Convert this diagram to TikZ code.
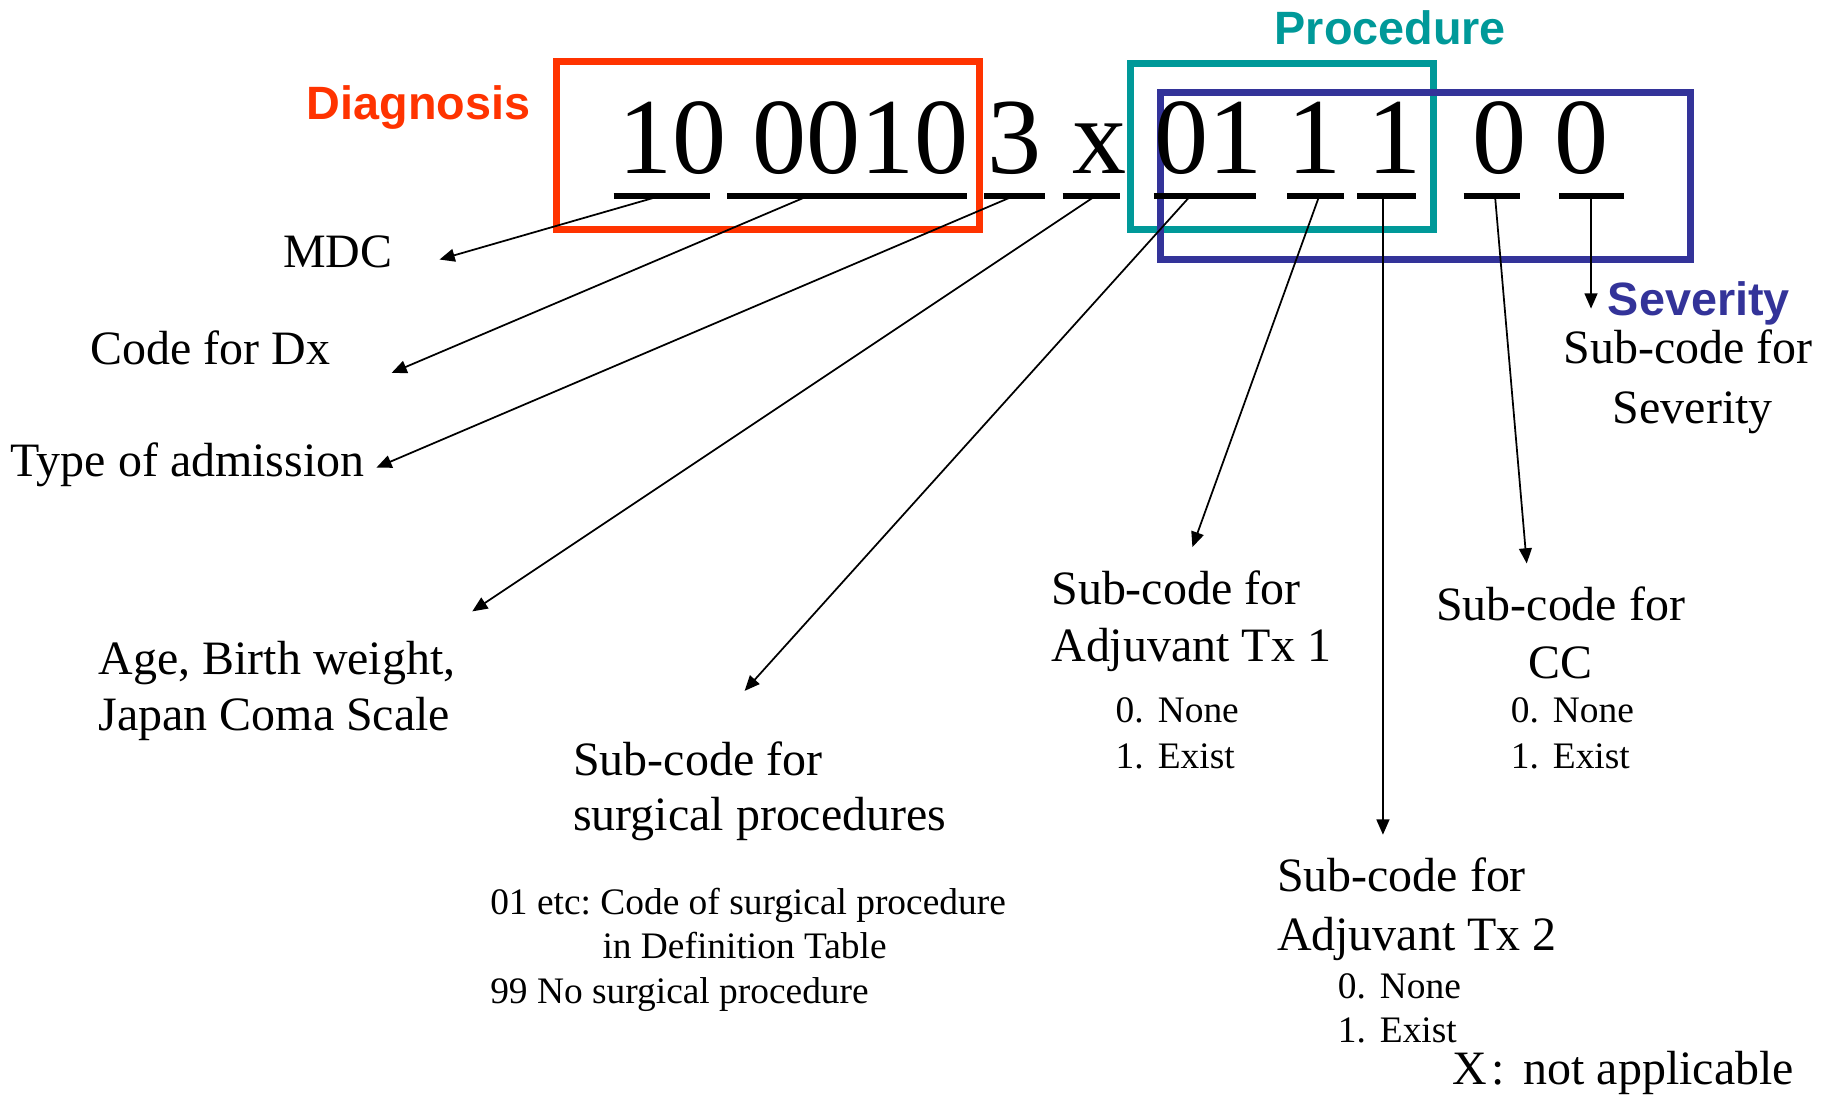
\documentclass[tikz,border=0pt]{standalone}
\usepackage{fontspec}
\setmainfont{Liberation Serif}
\newfontfamily\headsans{Liberation Sans}
\usetikzlibrary{arrows.meta}
\definecolor{dxred}{HTML}{FF3300}
\definecolor{proteal}{HTML}{009999}
\definecolor{sevblue}{HTML}{333399}
\frenchspacing

\begin{document}
\begin{tikzpicture}[x=0.5pt,y=-0.5pt,
  digits/.style={inner sep=0pt, anchor=base west, font=\fontsize{46.25pt}{50pt}\selectfont},
  lbl/.style={inner sep=0pt, anchor=base west, font=\fontsize{20.5pt}{24pt}\selectfont},
  lblc/.style={lbl, anchor=base},
  small/.style={inner sep=0pt, anchor=base west, font=\fontsize{16pt}{19pt}\selectfont},
  head/.style={inner sep=0pt, anchor=base west, font=\headsans\bfseries\fontsize{20pt}{24pt}\selectfont},
  codebox/.style={line width=3pt},
  uline/.style={line width=2.5pt},
  pointer/.style={line width=0.75pt, -{Triangle[length=6.5pt,width=5.5pt]}},
]
\useasboundingbox (0,0) rectangle (1568,938);

% group boxes
\draw[codebox, dxred]   (476,53) rectangle (838,196);
\draw[codebox, proteal] (967,54) rectangle (1226,196);
\draw[codebox, sevblue] (993,79) rectangle (1446,222);

% group headings
\node[head, text=dxred]   (hdx)  at (262,102) {Diagnosis};
\node[head, text=proteal] (hpro) at (1090,38) {Procedure};
\node[head, text=sevblue] (hsev) at (1375,270) {Severity};

% the code digits
\node[digits] (d1) at (529,148) {10};
\node[digits] (d2) at (643,148) {0010};
\node[digits] (d3) at (844,148) {3};
\node[digits] (d4) at (917,148) {x};
\node[digits] (d5) at (987,148) {01};
\node[digits] (d6) at (1101,148) {1};
\node[digits] (d7) at (1169,148) {1};
\node[digits] (d8) at (1259,148) {0};
\node[digits] (d9) at (1329,148) {0};

% underlines under each field
\draw[uline] (525,168) -- (607,168);
\draw[uline] (622,168) -- (827,168);
\draw[uline] (842,168) -- (894,168);
\draw[uline] (909,168) -- (958,168);
\draw[uline] (987,168) -- (1074,168);
\draw[uline] (1101,168) -- (1150,168);
\draw[uline] (1161,168) -- (1211,168);
\draw[uline] (1252,168) -- (1300,168);
\draw[uline] (1334,168) -- (1389,168);

% arrow origins on the underlines
\coordinate (s1) at (560,169);
\coordinate (s2) at (688,169);
\coordinate (s3) at (864,169);
\coordinate (s4) at (935,169);
\coordinate (s5) at (1017,169);
\coordinate (s6) at (1128,169);
\coordinate (s7) at (1183,169);
\coordinate (s8) at (1279,169);
\coordinate (s9) at (1361,169);

% arrow targets beside the labels
\coordinate (t1) at (376,222);
\coordinate (t2) at (335,319);
\coordinate (t3) at (322,400);
\coordinate (t4) at (404,523);
\coordinate (t5) at (637,591);
\coordinate (t6) at (1020,468);
\coordinate (t7) at (1183,714);
\coordinate (t8) at (1306,482);
\coordinate (t9) at (1361,264);

% labels
\node[lbl] (mdc)  at (242,229) {MDC};
\node[lbl] (cdx)  at (77,312)  {Code for Dx};
\node[lbl] (adm)  at (9,408)   {Type of admission};
\node[lbl] (age1) at (84,577)  {Age, Birth weight,};
\node[lbl] (age2) at (84,625)  {Japan Coma Scale};

\node[lbl] (sur1) at (490,663) {Sub-code for};
\node[lbl] (sur2) at (490,710) {surgical procedures};
\node[small] (sur3) at (419,782) {01 etc: Code of surgical procedure};
\node[small] (sur4) at (515,820) {in Definition Table};
\node[small] (sur5) at (419,858) {99 No surgical procedure};

\node[lbl] (aa1) at (899,517) {Sub-code for};
\node[lbl] (aa2) at (899,566) {Adjuvant Tx 1};
\node[small] (aa3) at (954,618) {\makebox[18pt][l]{0.}None};
\node[small] (aa4) at (954,657) {\makebox[18pt][l]{1.}Exist};

\node[lblc] (cc1) at (1335,531) {Sub-code for};
\node[lblc] (cc2) at (1335,580) {CC};
\node[small] (cc3) at (1292,618) {\makebox[18pt][l]{0.}None};
\node[small] (cc4) at (1292,657) {\makebox[18pt][l]{1.}Exist};

\node[lbl] (ab1) at (1092,763) {Sub-code for};
\node[lbl] (ab2) at (1092,813) {Adjuvant Tx 2};
\node[small] (ab3) at (1144,854) {\makebox[18pt][l]{0.}None};
\node[small] (ab4) at (1144,892) {\makebox[18pt][l]{1.}Exist};

\node[lblc] (sv1) at (1444,311) {Sub-code for};
\node[lblc] (sv2) at (1448,362) {Severity};

\node[lbl] (na) at (1242,928) {X\kern2pt:\kern8pt not applicable};

% connectors
\draw[pointer] (s1) -- (t1);
\draw[pointer] (s2) -- (t2);
\draw[pointer] (s3) -- (t3);
\draw[pointer] (s4) -- (t4);
\draw[pointer] (s5) -- (t5);
\draw[pointer] (s6) -- (t6);
\draw[pointer] (s7) -- (t7);
\draw[pointer] (s8) -- (t8);
\draw[pointer] (s9) -- (t9);
\end{tikzpicture}
\end{document}
